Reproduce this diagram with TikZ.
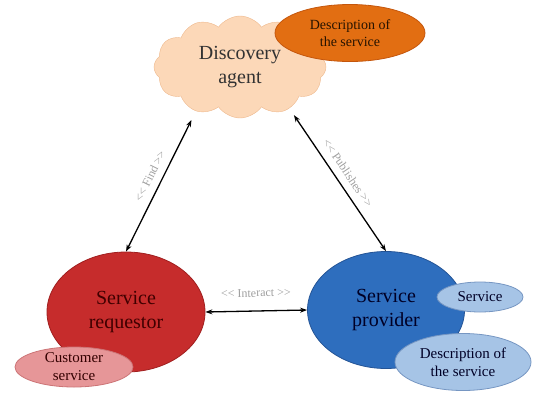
\documentclass[tikz,border=0pt]{standalone}
\usepackage{fontspec}
\setmainfont{Liberation Serif}
\usetikzlibrary{shapes.geometric,shapes.symbols,arrows.meta}

\definecolor{cloudfill}{RGB}{252,216,184}
\definecolor{cloudline}{RGB}{238,184,140}
\definecolor{orangefill}{RGB}{226,110,18}
\definecolor{orangeline}{RGB}{196,86,12}
\definecolor{redfill}{RGB}{198,44,44}
\definecolor{redline}{RGB}{160,30,30}
\definecolor{pinkfill}{RGB}{230,150,152}
\definecolor{pinkline}{RGB}{204,116,118}
\definecolor{bluefill}{RGB}{46,110,190}
\definecolor{blueline}{RGB}{36,84,150}
\definecolor{paleblue}{RGB}{166,196,230}
\definecolor{palebline}{RGB}{118,150,194}

\begin{document}
\begin{tikzpicture}[x=1pt, y=-1pt, font=\fontsize{20}{24}\selectfont,
  blob/.style={ellipse, draw, inner sep=0pt, align=center, line width=0.8pt},
  note/.style={blob, font=\fontsize{14}{17}\selectfont},
  link/.style={{Stealth[length=7pt,width=5pt]}-{Stealth[length=7pt,width=5pt]}, line width=1.3pt},
  tag/.style={font=\fontsize{12}{14}\selectfont, text=gray!75, sloped, above=4pt}]
  \useasboundingbox (0,0) rectangle (543,394);
  % ---- discovery agent and its description ----
  \node[cloud, cloud puffs=12, cloud puff arc=110, aspect=1.7, draw=cloudline, fill=cloudfill,
        minimum width=172pt, minimum height=102pt, inner sep=0pt, align=center,
        text=black!80] (agent) at (240,67) {Discovery\\agent};
  \node[note, fill=orangefill, draw=orangeline, text=black!85!orange,
        minimum width=150pt, minimum height=57pt] (adesc) at (350,33) {Description of\\the service};
  % ---- requestor ----
  \node[blob, fill=redfill, draw=redline, text=black!75!red,
        minimum width=158pt, minimum height=120pt] (req) at (126,312) {Service\\requestor};
  \node[note, fill=pinkfill, draw=pinkline, text=black!80!red, font=\fontsize{15}{18}\selectfont,
        minimum width=118pt, minimum height=40pt] (cust) at (74,367) {Customer\\service};
  % ---- provider ----
  \node[blob, fill=bluefill, draw=blueline, text=black!85!blue,
        minimum width=157pt, minimum height=117pt] (prov) at (386,310) {Service\\provider};
  \node[note, fill=paleblue, draw=palebline, text=black!85!blue, font=\fontsize{15}{18}\selectfont,
        minimum width=86pt, minimum height=30pt] (svc) at (480,297) {Service};
  \node[note, fill=paleblue, draw=palebline, text=black!85!blue, font=\fontsize{15}{18}\selectfont,
        minimum width=136pt, minimum height=57pt] (pdesc) at (463,362) {Description of\\the service};
  % ---- links ----
  \draw[link, shorten >=10pt] (req.north) -- node[tag] {<{}< Find >{}>} (agent.225);
  \draw[link, shorten <=8pt] (agent.320) -- node[tag] {<{}< Publishes >{}>} (prov.north);
  \draw[link] (req.east) -- node[tag, above=6pt] {<{}< Interact >{}>} (prov.west);
\end{tikzpicture}
\end{document}
